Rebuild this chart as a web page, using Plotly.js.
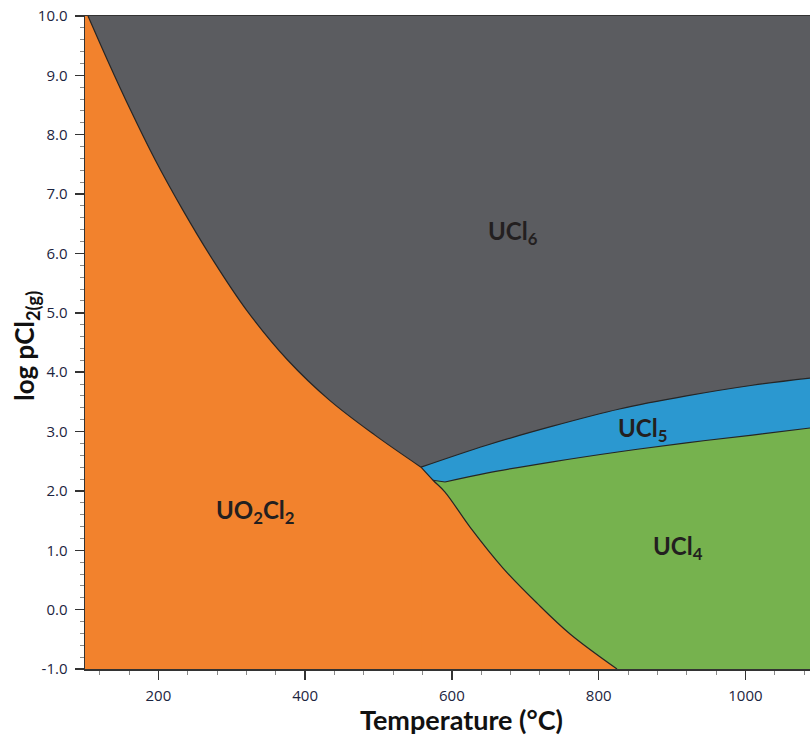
<!DOCTYPE html>
<html>
<head>
<meta charset="utf-8">
<script src="https://cdn.plot.ly/plotly-3.0.1.min.js"></script>
<style>html,body{margin:0;padding:0;background:#fff;}#chart{width:810px;height:736px;}</style>
</head>
<body>
<div id="chart"></div>
<script>
// Boundary UO2Cl2 / UCl6 (top-left to first triple point)
const b1T = [104.1, 130.5, 161.9, 195.9, 233.4, 274.3, 319.9, 375.8, 433.1, 495.1, 557.9];
const b1Y = [10.00, 9.26, 8.42, 7.57, 6.73, 5.89, 5.05, 4.21, 3.53, 2.94, 2.40];
// Boundary UO2Cl2 / UCl5 and UO2Cl2 / UCl4 (first triple point down to bottom)
const b2T = [557.9, 574.3, 590.6, 624.7, 669.6, 716.0, 761.0, 825.0];
const b2Y = [2.40, 2.18, 1.98, 1.39, 0.70, 0.11, -0.41, -1.00];
// Boundary UCl6 / UCl5
const b3T = [557.9, 647.3, 737.2, 828.4, 919.6, 1009.5, 1088];
const b3Y = [2.40, 2.77, 3.09, 3.38, 3.60, 3.78, 3.90];
// Boundary UCl5 / UCl4
const b4T = [574.3, 590.6, 647.3, 737.2, 828.4, 919.6, 1009.5, 1088];
const b4Y = [2.18, 2.15, 2.30, 2.49, 2.66, 2.81, 2.94, 3.06];

const xMin = 100, xMax = 1088, yMin = -1, yMax = 10;
const yTickVals = [-1,0,1,2,3,4,5,6,7,8,9,10];
const yTickText = ["-1.0","0.0","1.0","2.0","3.0","4.0","5.0","6.0","7.0","8.0","9.0","10.0"];
const xTickVals = [200,400,600,800,1000];
const xTickText = ["200","400","600","800","1000"];

const colors = {UCl6:'#5b5c60', UO2Cl2:'#f2822d', UCl5:'#2b98d0', UCl4:'#76b24e'};
const lineCol = '#262626';

const b4sT = b4T.slice(1), b4sY = b4Y.slice(1);   // smooth part of UCl5/UCl4 boundary
const b4kT = b4T.slice(0,2), b4kY = b4Y.slice(0,2); // short straight piece at the corner
const tpT = b1T[b1T.length-1], tpY = b1Y[b1Y.length-1]; // triple point
const endT = b2T[b2T.length-1];

const none = {width:0, color:'rgba(0,0,0,0)'};
function hidden(x,y){return {x:x,y:y,type:'scatter',mode:'lines',line:none,hoverinfo:'skip',showlegend:false};}
function filled(x,y,c){return {x:x,y:y,type:'scatter',mode:'lines',line:{width:0,color:c,shape:'spline',smoothing:1},fill:'tonexty',fillcolor:c,hoverinfo:'skip',showlegend:false};}
function edge(x,y,shape){return {x:x,y:y,type:'scatter',mode:'lines',line:{width:1.2,color:lineCol,shape:shape,smoothing:1},hoverinfo:'skip',showlegend:false};}

const data = [
  hidden([500, xMax], [yMin, yMin]),
  filled(b3T, b3Y, colors.UCl5),
  hidden([b4T[0], 500, 500, xMax], [b4Y[0], b4Y[0], yMin, yMin]),
  filled(b4sT, b4sY, colors.UCl4),
  hidden([xMin, xMin, 600], [yMax, yMin, yMin]),
  filled(b1T, b1Y, colors.UO2Cl2),
  hidden([tpT, tpT], [tpY, yMin]),
  filled(b2T, b2Y, colors.UO2Cl2),
  edge(b1T, b1Y, 'spline'),
  edge(b2T, b2Y, 'spline'),
  edge(b3T, b3Y, 'spline'),
  edge(b4sT, b4sY, 'spline'),
  edge(b4kT, b4kY, 'linear')
];

const tickFont = {family:'Open Sans, DejaVu Sans, sans-serif', size:15, color:'#1c2440'};
const labelFont = {family:'Lato, Open Sans, sans-serif', size:24, color:'#231f20', weight:'bold'};
const titleFont = {family:'Lato, Open Sans, sans-serif', size:27, color:'#111111', weight:'bold'};
const yTitleFont = {family:'Lato, Open Sans, sans-serif', size:26, color:'#111111', weight:'bold'};

const layout = {
  width:810, height:736,
  margin:{l:85, r:0, t:16, b:67, pad:0},
  paper_bgcolor:'#ffffff', plot_bgcolor:colors.UCl6,
  showlegend:false,
  xaxis:{
    range:[xMin,xMax], showgrid:false, zeroline:false,
    showline:true, linecolor:'#333333', linewidth:1.5, mirror:true,
    ticks:'outside', ticklen:9, tickwidth:1.5, tickcolor:'#333333',
    tickvals:xTickVals, ticktext:xTickText, tickfont:tickFont, ticklabelstandoff:3,
    minor:{dtick:40, tick0:0, ticks:'outside', ticklen:4, tickwidth:1, tickcolor:'#888888', showgrid:false}
  },
  yaxis:{
    range:[yMin,yMax], showgrid:false, zeroline:false,
    showline:true, linecolor:'#333333', linewidth:1.5,
    ticks:'outside', ticklen:9, tickwidth:1.5, tickcolor:'#333333',
    tickvals:yTickVals, ticktext:yTickText, tickfont:tickFont, ticklabelstandoff:4,
    minor:{dtick:0.2, tick0:0, ticks:'outside', ticklen:4, tickwidth:1, tickcolor:'#888888', showgrid:false}
  },
  annotations:[
    {xref:'paper', yref:'paper', x:0.519, y:0, yshift:-50, text:'Temperature (°C)', showarrow:false, xanchor:'center', yanchor:'middle', font:titleFont},
    {xref:'paper', yref:'paper', x:-0.0814, y:0.495, text:'log pCl<sub>2(g)</sub>', textangle:-90, showarrow:false, xanchor:'center', yanchor:'middle', font:yTitleFont},
    {x:682.8, y:6.36, text:'UCl<sub>6</sub>', showarrow:false, font:labelFont},
    {x:332.7, y:1.65, text:'UO<sub>2</sub>Cl<sub>2</sub>', showarrow:false, font:labelFont},
    {x:859.8, y:3.03, text:'UCl<sub>5</sub>', showarrow:false, font:labelFont},
    {x:908.6, y:1.04, text:'UCl<sub>4</sub>', showarrow:false, font:labelFont}
  ]
};

Plotly.newPlot('chart', data, layout, {staticPlot:true, displayModeBar:false});
</script>
</body>
</html>
